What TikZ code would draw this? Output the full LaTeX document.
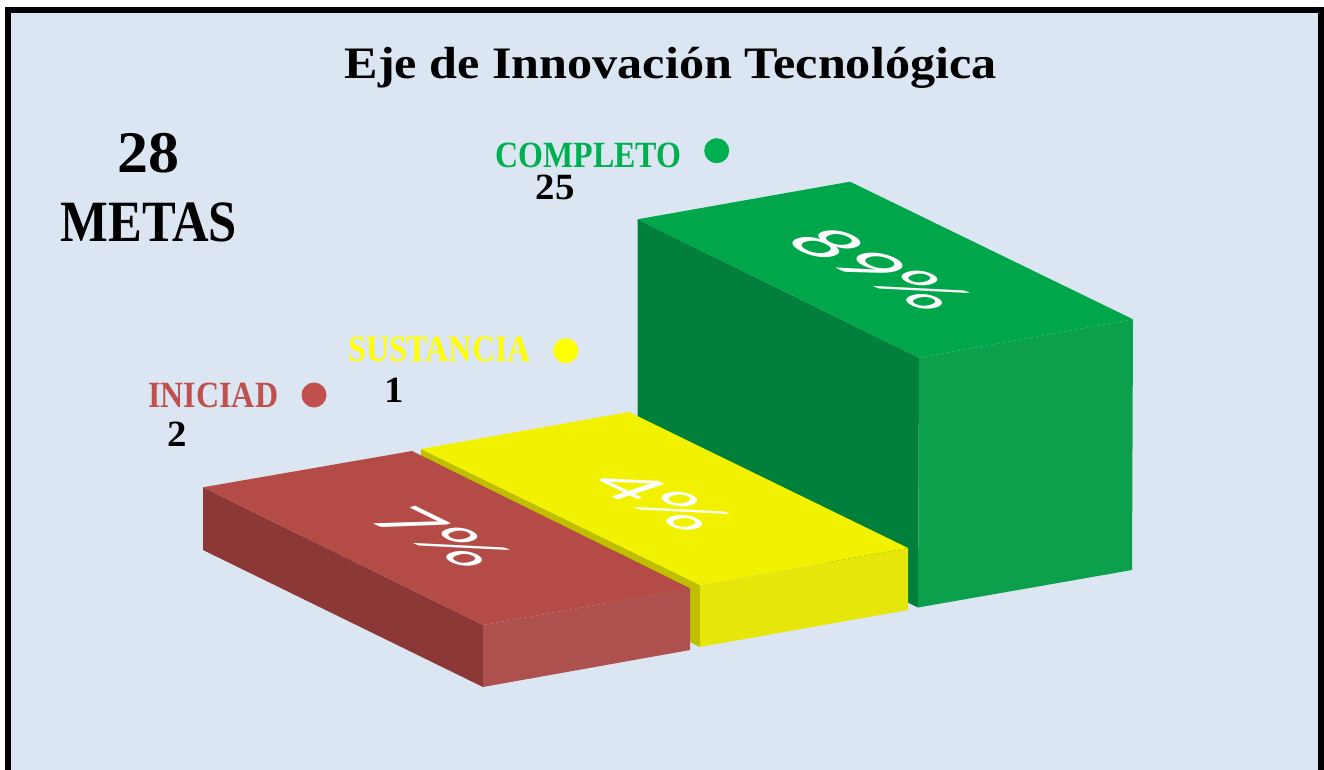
\documentclass[tikz,border=0pt]{standalone}
\usepackage{fontspec}
\setmainfont{Liberation Serif}
\newfontfamily\titlefont[FakeStretch=1.115]{Liberation Serif}
\newfontfamily\capsfont[FakeStretch=0.865]{Liberation Serif}
\newfontfamily\numfont[FakeStretch=1.05]{Liberation Serif}
\newfontfamily\pctfont{Carlito}
\usepackage{tikz}
\definecolor{panel}{HTML}{DCE6F2}
\definecolor{okgreen}{HTML}{00B050}
\definecolor{midyellow}{HTML}{FFFF00}
\definecolor{startred}{HTML}{C0504D}
\definecolor{gtop}{HTML}{00A64A}
\definecolor{gleft}{HTML}{00803A}
\definecolor{gright}{HTML}{0C9F4C}
\definecolor{ytop}{HTML}{F2F200}
\definecolor{yfront}{HTML}{E6E60B}
\definecolor{yside}{HTML}{BFBF00}
\definecolor{rtop}{HTML}{B54B47}
\definecolor{rleft}{HTML}{8B3836}
\definecolor{rright}{HTML}{AE504E}
\tikzstyle{heading}=[inner sep=0mm, anchor=base, font=\titlefont\bfseries\fontsize{45}{54}\selectfont]
\tikzstyle{bigcount}=[inner sep=0mm, anchor=base, font=\numfont\bfseries\fontsize{59}{70}\selectfont]
\tikzstyle{bigword}=[inner sep=0mm, anchor=base, font=\capsfont\bfseries\fontsize{58.5}{70}\selectfont]
\tikzstyle{status}=[inner sep=0mm, anchor=base, font=\capsfont\bfseries\fontsize{37}{44}\selectfont]
\tikzstyle{tally}=[inner sep=0mm, anchor=base, font=\numfont\bfseries\fontsize{37}{44}\selectfont]
\tikzstyle{statusdot}=[circle, inner sep=0mm, minimum size=25pt]
\tikzstyle{pct}=[inner sep=0mm, text=white, font=\pctfont\fontsize{96}{115}\selectfont, cm={0.88,-0.43,0.76,0.25,(0,0)}]

\begin{document}
\begin{tikzpicture}[x=1pt, y=-1pt]
      \useasboundingbox (0,0) rectangle (1324,770);
      \clip (0,0) rectangle (1324,770);
      \fill[panel] (8,10) rectangle (1321,800);
      \draw[line width=6] (8,10) rectangle (1321,800);
      \node[heading] (title) at (670.5,78.3) {Eje de Innovación Tecnológica};
      \node[bigcount] (total) at (148.3,173) {28};
      \node[bigword] (metas) at (149,241.7) {METAS};
      \fill[gleft] (637.5,219.3) -- (919,357.7) -- (918,607.5) -- (637.5,469) -- cycle;
      \fill[gright] (919,357.7) -- (1133,319.3) -- (1132,570) -- (918,607.5) -- cycle;
      \fill[gtop] (637.5,219.3) -- (850,181.7) -- (1133,319.3) -- (919,357.7) -- cycle;
      \fill[yside] (421,449) -- (700,585) -- (700,647) -- (421,511) -- cycle;
      \fill[yfront] (700,585) -- (908,548) -- (908,610) -- (700,647) -- cycle;
      \fill[ytop] (421,449) -- (629,412) -- (908,548) -- (700,585) -- cycle;
      \fill[rleft] (203,487.3) -- (483,625) -- (483,687) -- (203,550) -- cycle;
      \fill[rright] (483,625) -- (690,588.3) -- (690,650) -- (483,687) -- cycle;
      \fill[rtop] (203,487.3) -- (412,451) -- (690,588.3) -- (483,625) -- cycle;
      \node[pct] (pg) at (879,269) {89\%};
      \node[pct] (py) at (660.7,500.5) {4\%};
      \node[pct] (pr) at (441,537) {7\%};
      \node[status, text=okgreen] (completo) at (588.3,167.3) {COMPLETO};
      \node[statusdot, fill=okgreen] (dc) at (716.7,150.7) {};
      \node[tally] (nc) at (555,199.3) {25};
      \node[status, text=midyellow] (sustancia) at (439.5,361.7) {SUSTANCIA};
      \node[statusdot, fill=midyellow] (ds) at (565.7,350.7) {};
      \node[tally] (ns) at (394.7,402.7) {1};
      \node[status, text=startred] (iniciad) at (213.3,407.7) {INICIAD};
      \node[statusdot, fill=startred] (di) at (314,395) {};
      \node[tally] (ni) at (177.3,446) {2};
    \end{tikzpicture}
\end{document}
